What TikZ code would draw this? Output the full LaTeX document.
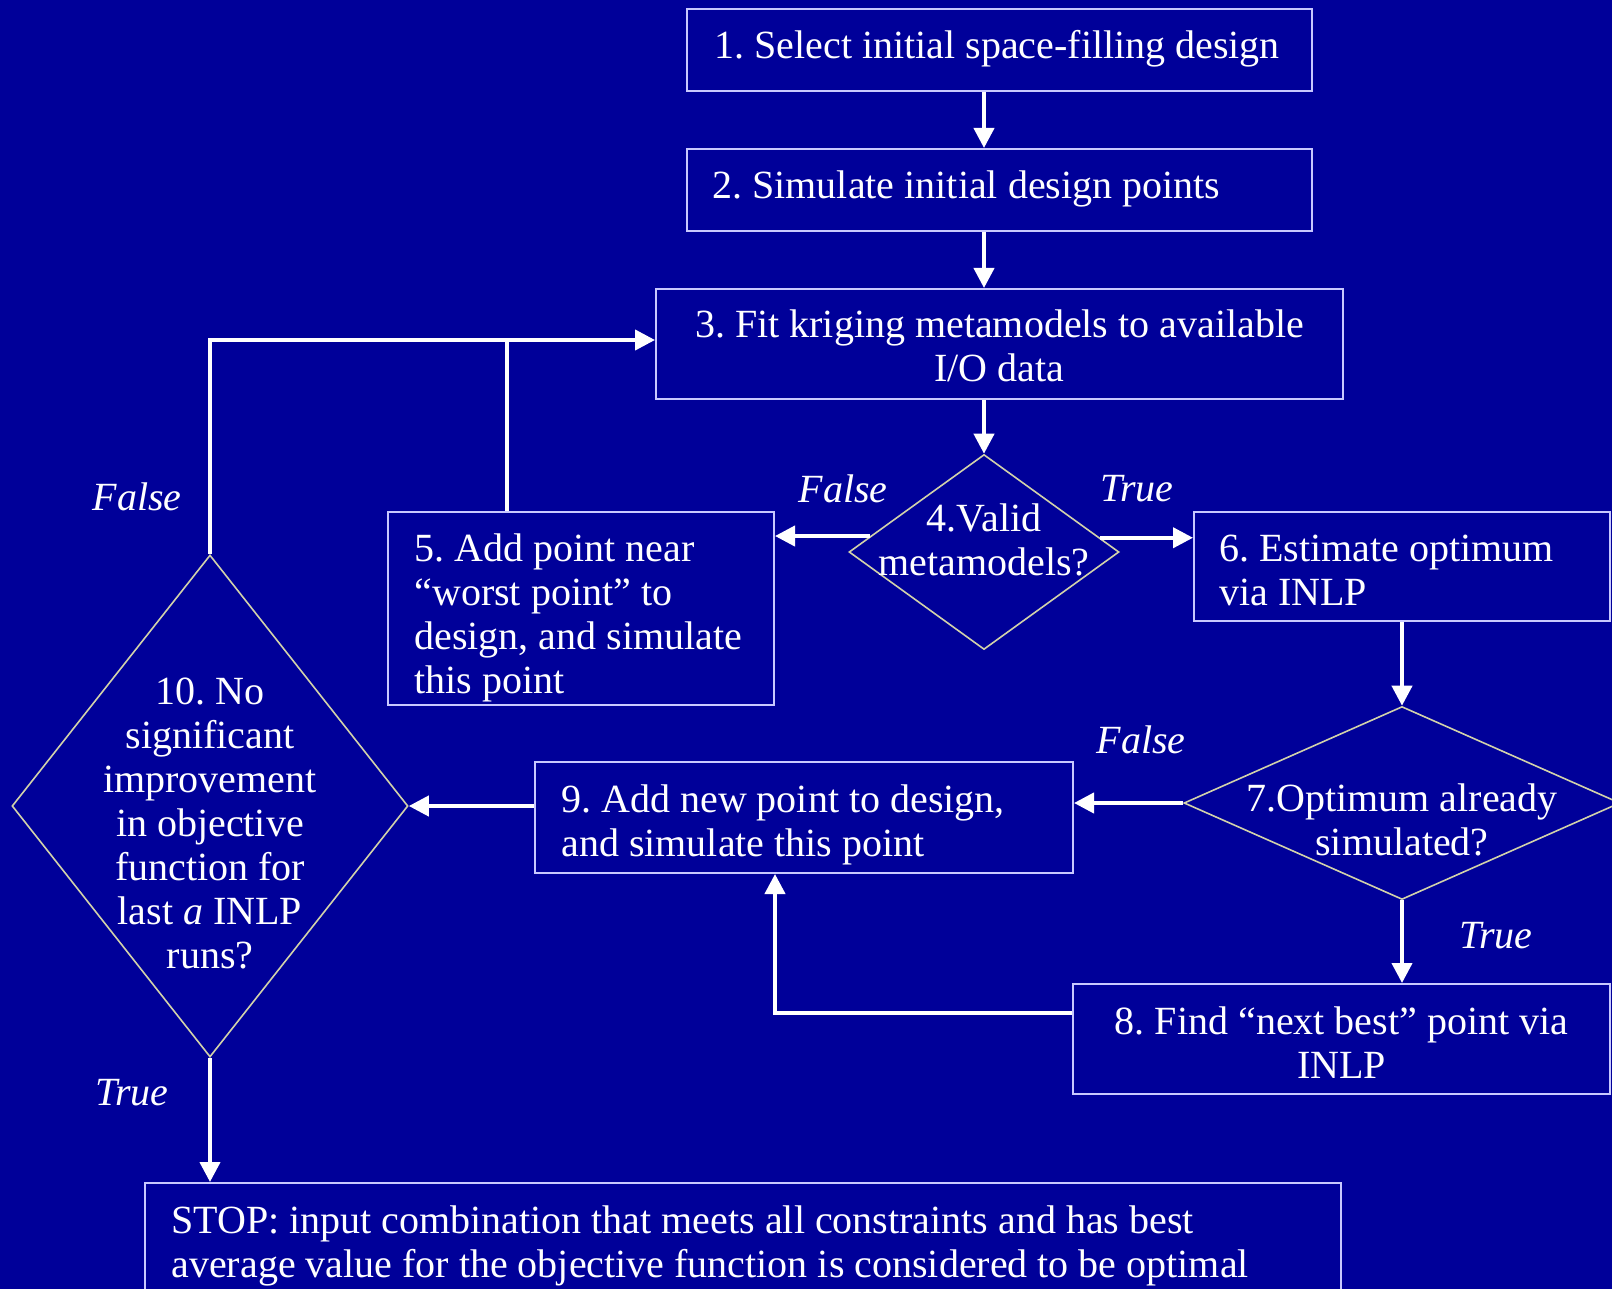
\documentclass[tikz,border=0pt]{standalone}
\usepackage{fontspec}
\setmainfont{Liberation Serif}
\usetikzlibrary{arrows.meta,shapes.geometric}
\definecolor{bg}{RGB}{0,0,153}
\definecolor{boxline}{RGB}{200,200,255}
\definecolor{diaLine}{RGB}{210,210,170}
\begin{document}
\begin{tikzpicture}[x=0.5pt,y=-0.5pt,
 box/.style={draw=boxline, line width=1pt, rectangle, inner sep=0pt},
 dia/.style={draw=diaLine, line width=0.8pt, diamond, inner sep=0pt},
 txt/.style={text=white, font=\fontsize{20pt}{22pt}\selectfont\frenchspacing, inner sep=0pt},
 lbl/.style={text=white, font=\fontsize{20pt}{22pt}\selectfont\itshape, inner sep=0pt},
 arr/.style={draw=white, line width=2pt, line join=miter, -{Triangle[width=10pt,length=10pt]}},
 conn/.style={draw=white, line width=2pt}]
\useasboundingbox (0,0) rectangle (1612,1289);
\clip (0,0) rectangle (1612,1289);
\fill[bg] (0,0) rectangle (1612,1289);

% boxes
\node[box, minimum width=312.5pt, minimum height=41pt] (b1) at (999.5,50) {};
\node[box, minimum width=312.5pt, minimum height=41pt] (b2) at (999.5,190) {};
\node[box, minimum width=343.5pt, minimum height=55pt] (b3) at (999.5,344) {};
\node[box, minimum width=193pt, minimum height=96.5pt] (b5) at (581,608.5) {};
\node[box, minimum width=208pt, minimum height=54.5pt] (b6) at (1402,566.5) {};
\node[box, minimum width=269pt, minimum height=55.5pt] (b9) at (804,817.5) {};
\node[box, minimum width=268.5pt, minimum height=55pt] (b8) at (1341.5,1039) {};
\node[box, minimum width=598pt, minimum height=63.5pt] (stop) at (743,1246.5) {};

% diamonds
\node[dia, minimum width=135pt, minimum height=97.5pt] (d4) at (984,552) {};
\node[dia, minimum width=218pt, minimum height=96.5pt] (d7) at (1402,803) {};
\node[dia, minimum width=198pt, minimum height=251pt] (d10) at (210,806) {};

% texts
\node[txt, anchor=west] (t1) at (714,49) {1. Select initial space-filling design};
\node[txt, anchor=west] (t2) at (712,189) {2. Simulate initial design points};
\node[txt, align=center] (t3) at (999.5,346) {3. Fit kriging metamodels to available\\I/O data};
\node[txt, align=center] (t4) at (984,540) {4.Valid\\metamodels?};
\node[txt, anchor=west, align=left] (t5) at (414,618) {5. Add point near\\“worst point” to\\design, and simulate\\this point};
\node[txt, anchor=west, align=left] (t6) at (1219,570) {6. Estimate optimum\\via INLP};
\node[txt, align=center] (t7) at (1402,820) {7.Optimum already\\simulated?};
\node[txt, align=center] (t8) at (1341.5,1043) {8. Find “next best” point via\\INLP};
\node[txt, anchor=west, align=left] (t9) at (561,825) {9. Add new point to design,\\and simulate this point};
\node[txt, align=center] (t10) at (210,823) {10. No\\significant\\improvement\\in objective\\function for\\last \textit{a} INLP\\runs?};
\node[txt, anchor=west, align=left] (tstop) at (171,1246) {STOP: input combination that meets all constraints and has best\\average value for the objective function is considered to be optimal};

% labels
\node[lbl] (lf10) at (137,497) {False};
\node[lbl] (lf4) at (843,489) {False};
\node[lbl] (lt4) at (1137,489) {True};
\node[lbl] (lf7) at (1141,740) {False};
\node[lbl] (lt7) at (1496,936) {True};
\node[lbl] (lt10) at (132,1093) {True};

% connectors
\draw[arr] (b1.south -| d4) -- (b2.north -| d4);
\draw[arr] (b2.south -| d4) -- (b3.north -| d4);
\draw[arr] (b3.south -| d4) -- (d4.north);
\draw[arr] (d4.172.5) -- (d4.172.5 -| b5.east);
\draw[arr] (d4.7.5) -- (d4.7.5 -| b6.west);
\coordinate (j10) at (210,340);
\coordinate (j5) at (507,340);
\draw[arr] (d10.north) -- (j10) -- (j10 -| b3.west);
\draw[conn] (b5.north -| j5) -- (j5);
\draw[arr] (b6.south -| d7) -- (d7.north);
\draw[arr] (d7.west) -- (d7.west -| b9.east);
\draw[arr] (d7.south) -- (d7.south |- b8.north);
\coordinate (j8) at (775,1013);
\draw[arr] (j8 -| b8.west) -- (j8) -- (j8 |- b9.south);
\draw[arr] (d10.east -| b9.west) -- (d10.east);
\draw[arr] (d10.south) -- (d10.south |- stop.north);
\end{tikzpicture}
\end{document}
